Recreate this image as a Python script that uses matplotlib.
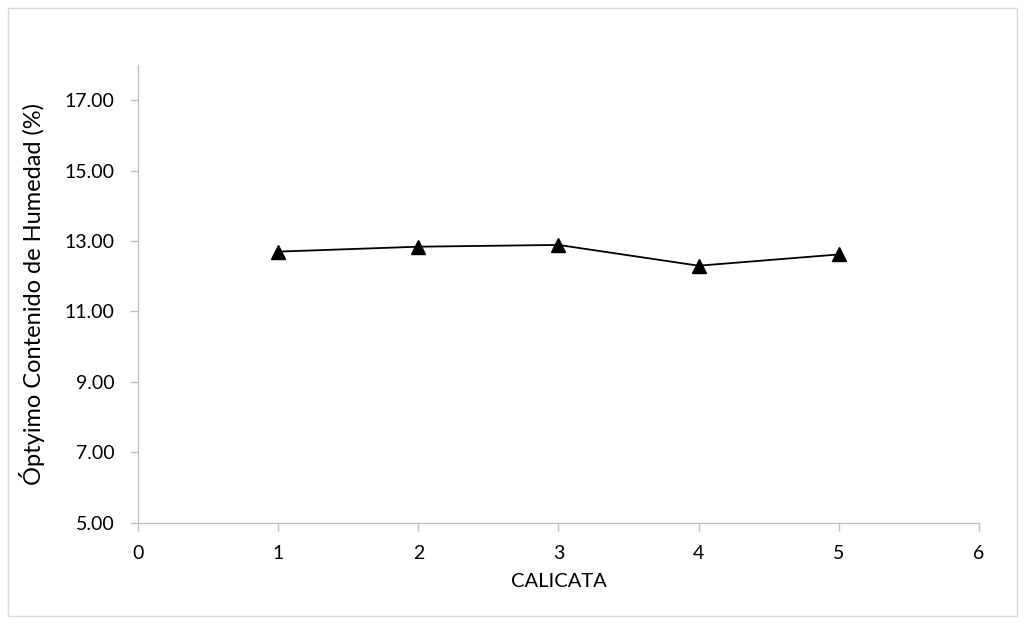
import matplotlib.pyplot as plt
from matplotlib.patches import Rectangle

# datos
calicatas = [1, 2, 3, 4, 5]
humedad = [12.70, 12.84, 12.89, 12.30, 12.62]
yticks = [5, 7, 9, 11, 13, 15, 17]
xticks = [0, 1, 2, 3, 4, 5, 6]

plt.rcParams['font.family'] = ['Lato', 'DejaVu Sans']

fig = plt.figure(figsize=(10.25, 6.24), dpi=100)
ax = fig.add_axes([0.1346, 0.1623, 0.8205, 0.7335])

ax.plot(calicatas, humedad, color='black', linewidth=1.3,
        marker='^', markersize=10, markerfacecolor='black', markeredgecolor='black')

ax.set_xlim(0, 6)
ax.set_ylim(5, 18)
ax.set_xticks(xticks)
ax.set_yticks(yticks)
ax.set_yticklabels([f'{v:.2f}' for v in yticks])

for s in ['top', 'right']:
    ax.spines[s].set_visible(False)
for s in ['left', 'bottom']:
    ax.spines[s].set_color('#bfbfbf')
    ax.spines[s].set_linewidth(1.0)
ax.tick_params(axis='both', color='#bfbfbf', length=6, width=1.0,
               labelsize=14, labelcolor='#000000')
ax.tick_params(axis='x', pad=10)
ax.tick_params(axis='y', pad=11)

ax.set_xlabel('CALICATA', fontsize=14.5, labelpad=8)
ax.set_ylabel('Óptyimo Contenido de Humedad (%)', fontsize=17, labelpad=14)

# borde del area del grafico
fig.patches.append(Rectangle((8 / 1025, 8 / 624), 1009 / 1025, 608 / 624,
                             transform=fig.transFigure, fill=False,
                             edgecolor='#d9d9d9', linewidth=1.0))

fig.savefig('out.png', dpi=100)
